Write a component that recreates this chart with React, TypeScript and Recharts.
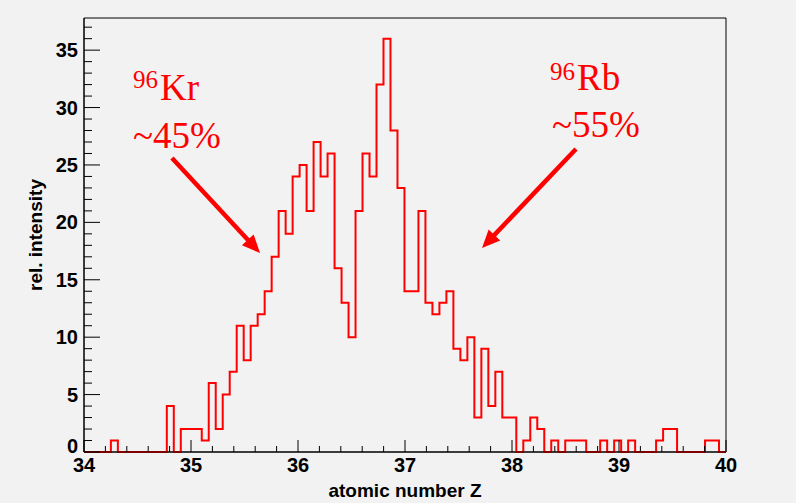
import React from 'react';
import {
  LineChart,
  Line,
  XAxis,
  YAxis,
  ReferenceArea,
  ReferenceLine,
  ReferenceDot,
} from 'recharts';

// Histogram binning along the atomic-number axis
const binStart = 33.99;
const binEnd = 40.0;
const binCount = 92;

// Counts per bin (rel. intensity)
const counts = [
  0, 0, 0, 0, 1, 0, 0, 0, 0, 0,
  0, 0, 4, 0, 2, 2, 2, 1, 6, 2,
  5, 7, 11, 8, 11, 12, 14, 17, 21, 19,
  24, 25, 21, 27, 24, 26, 16, 13, 10, 21,
  26, 24, 32, 36, 28, 23, 14, 14, 21, 13,
  12, 13, 14, 9, 8, 10, 3, 9, 4, 7,
  3, 3, 0, 1, 3, 2, 0, 1, 0, 1,
  1, 1, 0, 0, 1, 0, 1, 0, 1, 0,
  0, 0, 1, 2, 2, 0, 0, 0, 0, 1,
  1, 0,
];

// Axis ranges and labelled ticks
const xRange = [34, 40];
const yRange = [0, 37.8];
const xMajorTicks = [34, 35, 36, 37, 38, 39, 40];
const yMajorTicks = [0, 5, 10, 15, 20, 25, 30, 35];
const xMinorDivisions = 5;
const yMinorDivisions = 5;

// Annotations
const krLabel = { z: 34.458, v: 30.66, sup: '96', sym: 'Kr', share: '~45%' };
const rbLabel = { z: 38.355, v: 31.53, sup: '96', sym: 'Rb', share: '~55%' };
const krArrow = [{ x: 34.822, y: 25.61 }, { x: 35.645, y: 17.33 }];
const rbArrow = [{ x: 38.598, y: 26.39 }, { x: 37.72, y: 17.77 }];

const RED = '#ff0000';
const SANS = '"Liberation Sans", Arial, Helvetica, sans-serif';
const SERIF = '"Liberation Serif", "Times New Roman", Times, serif';

const binWidth = (binEnd - binStart) / binCount;
const histData = counts.map((n, i) => ({
  z: Math.max(binStart + i * binWidth, xRange[0]),
  n,
}));
histData.push({ z: xRange[1], n: counts[counts.length - 1] });

const buildTicks = (majors: number[], div: number) => {
  const out: number[] = [];
  for (let i = 0; i < majors.length - 1; i++) {
    const step = (majors[i + 1] - majors[i]) / div;
    for (let k = 0; k < div; k++) out.push(+(majors[i] + k * step).toFixed(4));
  }
  out.push(majors[majors.length - 1]);
  return out;
};

const xTicks = buildTicks(xMajorTicks, xMinorDivisions);
const yTicksAll = buildTicks(yMajorTicks, yMinorDivisions).concat([36, 37]);

const isMajor = (v: number, majors: number[]) =>
  majors.some((m) => Math.abs(m - v) < 1e-6);

const XTick = (props: any) => {
  const { x, y, payload } = props;
  const v = payload.value;
  const major = isMajor(v, xMajorTicks);
  return (
    <g>
      <line x1={x} y1={y} x2={x} y2={y - (major ? 12 : 6)} stroke="#000" strokeWidth={1} />
      {major && (
        <text
          x={x}
          y={y + 20}
          textAnchor="middle"
          fontFamily={SANS}
          fontWeight="bold"
          fontSize={20}
          fill="#000"
        >
          {Math.round(v)}
        </text>
      )}
    </g>
  );
};

const YTick = (props: any) => {
  const { x, y, payload } = props;
  const v = payload.value;
  const major = isMajor(v, yMajorTicks);
  // the lowest label sits a little higher, clear of the x labels
  const lift = Math.abs(v - yRange[0]) < 1e-6 ? 6 : 0;
  return (
    <g>
      <line x1={x} y1={y} x2={x + (major ? 16 : 8)} y2={y} stroke="#000" strokeWidth={1} />
      {major && (
        <text
          x={x - 6}
          y={y + 7 - lift}
          textAnchor="end"
          fontFamily={SANS}
          fontWeight="bold"
          fontSize={20}
          fill="#000"
        >
          {Math.round(v)}
        </text>
      )}
    </g>
  );
};

const Arrow = (p: any) => {
  const { x1, y1, x2, y2 } = p;
  const dx = x2 - x1;
  const dy = y2 - y1;
  const len = Math.hypot(dx, dy) || 1;
  const ux = dx / len;
  const uy = dy / len;
  const head = 18;
  const half = 8;
  const bx = x2 - ux * head;
  const by = y2 - uy * head;
  const px = -uy;
  const py = ux;
  return (
    <g>
      <line x1={x1} y1={y1} x2={bx + ux * 2} y2={by + uy * 2} stroke={RED} strokeWidth={4.5} />
      <polygon
        points={`${x2},${y2} ${bx + px * half},${by + py * half} ${bx - px * half},${by - py * half}`}
        fill={RED}
      />
    </g>
  );
};

const nuclideLabel = (info: typeof krLabel, supDy: number, shareDx: number, shareDy: number) =>
  (p: any) => {
    const { cx, cy } = p;
    return (
      <g fill={RED} fontFamily={SERIF}>
        <text x={cx} y={cy + supDy} fontSize={25}>{info.sup}</text>
        <text x={cx + 27} y={cy} fontSize={37}>{info.sym}</text>
        <text x={cx + shareDx} y={cy + shareDy} fontSize={37}>{info.share}</text>
      </g>
    );
  };

export default function App() {
  return (
    <div
      style={{
        position: 'absolute',
        left: 0,
        top: 0,
        width: 796,
        height: 503,
        background: '#f2f2f2',
      }}
    >
      <LineChart
        width={796}
        height={503}
        data={histData}
        margin={{ top: 18, right: 70, bottom: 0, left: 0 }}
      >
        <ReferenceArea
          x1={xRange[0]}
          x2={xRange[1]}
          y1={yRange[0]}
          y2={yRange[1]}
          fill="none"
          stroke="#000"
          strokeWidth={1}
          ifOverflow="visible"
        />
        <XAxis
          type="number"
          dataKey="z"
          domain={xRange}
          ticks={xTicks}
          interval={0}
          height={51}
          tickLine={false}
          tickSize={0}
          tickMargin={0}
          tick={<XTick />}
          axisLine={{ stroke: '#000', strokeWidth: 1 }}
          label={{
            content: (lp: any) => {
              const vb = lp.viewBox;
              return (
                <text
                  x={vb.x + vb.width / 2}
                  y={vb.y + 45}
                  textAnchor="middle"
                  fontFamily={SANS}
                  fontWeight="bold"
                  fontSize={19}
                  fill="#000"
                >
                  atomic number Z
                </text>
              );
            },
          }}
        />
        <YAxis
          type="number"
          domain={yRange}
          ticks={yTicksAll}
          interval={0}
          width={84}
          tickLine={false}
          tickSize={0}
          tickMargin={0}
          tick={<YTick />}
          axisLine={{ stroke: '#000', strokeWidth: 1 }}
          label={{
            content: (lp: any) => {
              const vb = lp.viewBox;
              const cx = vb.x + 42;
              const cy = vb.y + vb.height / 2;
              return (
                <text
                  x={cx}
                  y={cy}
                  transform={`rotate(-90, ${cx}, ${cy})`}
                  textAnchor="middle"
                  fontFamily={SANS}
                  fontWeight="bold"
                  fontSize={19}
                  fill="#000"
                >
                  rel. intensity
                </text>
              );
            },
          }}
        />
        <Line
          type="stepAfter"
          dataKey="n"
          stroke={RED}
          strokeWidth={2}
          dot={false}
          activeDot={false}
          isAnimationActive={false}
        />
        <ReferenceLine segment={krArrow} shape={Arrow} ifOverflow="visible" />
        <ReferenceLine segment={rbArrow} shape={Arrow} ifOverflow="visible" />
        <ReferenceDot
          x={krLabel.z}
          y={krLabel.v}
          r={0}
          ifOverflow="visible"
          shape={nuclideLabel(krLabel, -12, 0, 48)}
        />
        <ReferenceDot
          x={rbLabel.z}
          y={rbLabel.v}
          r={0}
          ifOverflow="visible"
          shape={nuclideLabel(rbLabel, -10, 2, 47)}
        />
      </LineChart>
    </div>
  );
}
